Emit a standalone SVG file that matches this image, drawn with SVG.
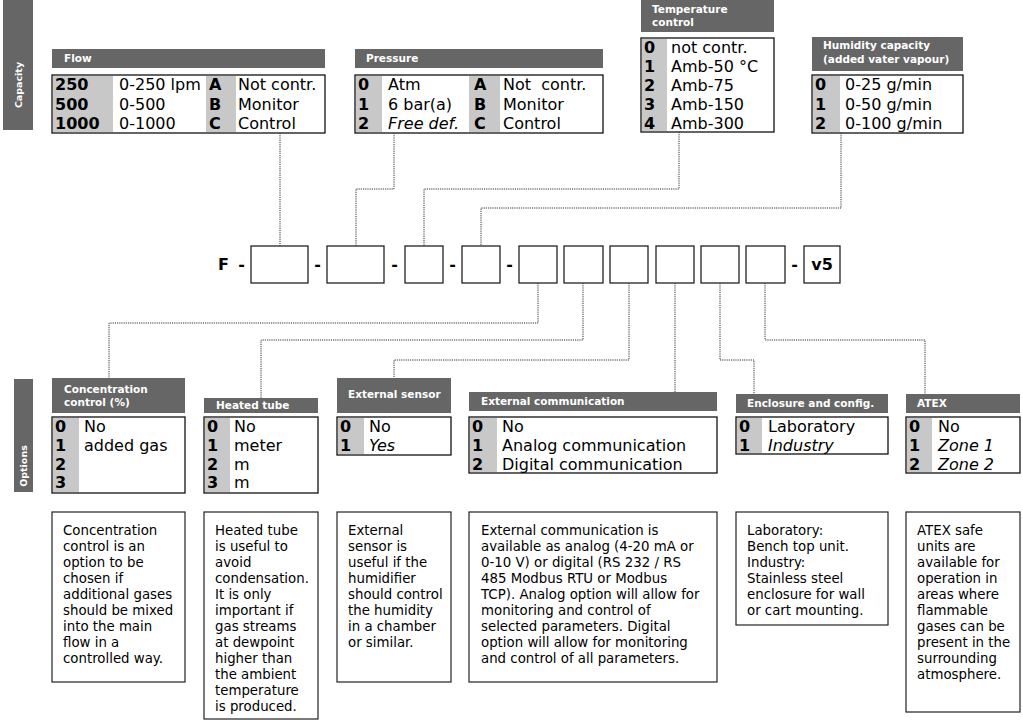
<svg xmlns="http://www.w3.org/2000/svg" width="1023" height="720" viewBox="0 0 1023 720">
<style>
text{font-family:"DejaVu Sans","Verdana",sans-serif;fill:#000}
.hdr{fill:#666}
.hd{font-size:10.5px;font-weight:bold;fill:#fff}
.side{font-size:9.5px;font-weight:bold;fill:#fff}
.tbl{fill:#fff;stroke:#111;stroke-width:1.3}
.g{fill:#c8c8c8}
.t{font-size:16px}
.b{font-size:16px;font-weight:bold}
.i{font-style:italic}
.box{fill:#fff;stroke:#222;stroke-width:1.3}
.code{font-size:16px;font-weight:bold}
.d{font-size:13.33px}
.desc{fill:#fff;stroke:#222;stroke-width:1.2}
.con{fill:none;stroke:#333;stroke-width:1;stroke-dasharray:1.2 1}
</style>
<rect x="0" y="0" width="1023" height="720" fill="#fff"/>

<g id="side-capacity">
<rect class="hdr" x="3" y="0" width="30" height="130"/>
<text class="side" transform="translate(22,85) rotate(-90)" text-anchor="middle">Capacity</text>
</g>
<g id="side-options">
<rect class="hdr" x="14" y="379" width="19" height="113"/>
<text class="side" transform="translate(27,466) rotate(-90)" text-anchor="middle">Options</text>
</g>

<g id="flow">
<rect class="hdr" x="52" y="49" width="273" height="19"/>
<text class="hd" x="64" y="62">Flow</text>
<rect class="tbl" x="52" y="75" width="273" height="58"/>
<rect class="g" x="53" y="76" width="60" height="56"/>
<rect class="g" x="206" y="76" width="30" height="56"/>
<text class="b" x="55" y="90">250</text><text class="t" x="119" y="90">0-250 lpm</text><text class="b" x="209" y="90">A</text><text class="t" x="238" y="90">Not contr.</text>
<text class="b" x="55" y="109.5">500</text><text class="t" x="119" y="109.5">0-500</text><text class="b" x="209" y="109.5">B</text><text class="t" x="238" y="109.5">Monitor</text>
<text class="b" x="55" y="129">1000</text><text class="t" x="119" y="129">0-1000</text><text class="b" x="209" y="129">C</text><text class="t" x="238" y="129">Control</text>
</g>

<g id="pressure">
<rect class="hdr" x="355" y="49" width="248" height="19"/>
<text class="hd" x="366" y="62">Pressure</text>
<rect class="tbl" x="355" y="75" width="248" height="58"/>
<rect class="g" x="356" y="76" width="26" height="56"/>
<rect class="g" x="469" y="76" width="31" height="56"/>
<text class="b" x="358" y="90">0</text><text class="t" x="388" y="90">Atm</text><text class="b" x="474" y="90">A</text><text class="t" x="503" y="90" xml:space="preserve">Not  contr.</text>
<text class="b" x="358" y="109.5">1</text><text class="t" x="388" y="109.5">6 bar(a)</text><text class="b" x="474" y="109.5">B</text><text class="t" x="503" y="109.5">Monitor</text>
<text class="b" x="358" y="129">2</text><text class="t i" x="388" y="129">Free def.</text><text class="b" x="474" y="129">C</text><text class="t" x="503" y="129">Control</text>
</g>

<g id="temperature">
<rect class="hdr" x="641" y="0" width="133" height="32"/>
<text class="hd" x="652" y="13">Temperature</text>
<text class="hd" x="652" y="26">control</text>
<rect class="tbl" x="641" y="38" width="133" height="94"/>
<rect class="g" x="642" y="39" width="25" height="92"/>
<text class="b" x="644" y="53">0</text><text class="t" x="671" y="53">not contr.</text>
<text class="b" x="644" y="72">1</text><text class="t" x="671" y="72">Amb-50 °C</text>
<text class="b" x="644" y="91">2</text><text class="t" x="671" y="91">Amb-75</text>
<text class="b" x="644" y="110">3</text><text class="t" x="671" y="110">Amb-150</text>
<text class="b" x="644" y="129">4</text><text class="t" x="671" y="129">Amb-300</text>
</g>

<g id="humidity">
<rect class="hdr" x="812" y="37" width="151" height="34"/>
<text class="hd" x="823" y="49">Humidity capacity</text>
<text class="hd" x="823" y="63">(added vater vapour)</text>
<rect class="tbl" x="812" y="75" width="151" height="58"/>
<rect class="g" x="813" y="76" width="27" height="56"/>
<text class="b" x="815" y="90">0</text><text class="t" x="845" y="90">0-25 g/min</text>
<text class="b" x="815" y="109.5">1</text><text class="t" x="845" y="109.5">0-50 g/min</text>
<text class="b" x="815" y="129">2</text><text class="t" x="845" y="129">0-100 g/min</text>
</g>

<g id="code">
<text class="code" x="218" y="270">F</text>
<text class="code" x="241.5" y="270" text-anchor="middle">-</text>
<rect class="box" x="251" y="246" width="57" height="37"/>
<text class="code" x="317.5" y="270" text-anchor="middle">-</text>
<rect class="box" x="327" y="246" width="57" height="37"/>
<text class="code" x="394.5" y="270" text-anchor="middle">-</text>
<rect class="box" x="405" y="246" width="38" height="37"/>
<text class="code" x="452.5" y="270" text-anchor="middle">-</text>
<rect class="box" x="462" y="246" width="38" height="37"/>
<text class="code" x="509.5" y="270" text-anchor="middle">-</text>
<rect class="box" x="519" y="246" width="38" height="37"/>
<rect class="box" x="564" y="246" width="39" height="37"/>
<rect class="box" x="610" y="246" width="38" height="37"/>
<rect class="box" x="656" y="246" width="38" height="37"/>
<rect class="box" x="701" y="246" width="38" height="37"/>
<rect class="box" x="746" y="246" width="39" height="37"/>
<text class="code" x="794.5" y="270" text-anchor="middle">-</text>
<rect class="box" x="804" y="246" width="36" height="37"/>
<text class="code" x="822" y="270" text-anchor="middle">v5</text>
</g>

<g id="connectors">
<path class="con" d="M280,133 V246"/>
<path class="con" d="M394,133 V189 H356 V246"/>
<path class="con" d="M679,132 V189 H424 V246"/>
<path class="con" d="M841,133 V208 H481 V246"/>
<path class="con" d="M538,283 V323 H109 V378"/>
<path class="con" d="M583,283 V340 H261 V398"/>
<path class="con" d="M629,283 V360 H394 V378"/>
<path class="con" d="M675,283 V392"/>
<path class="con" d="M720,283 V360 H754 V394"/>
<path class="con" d="M765,283 V340 H925 V394"/>
</g>

<g id="concentration">
<rect class="hdr" x="52" y="378" width="133" height="35"/>
<text class="hd" x="64" y="393">Concentration</text>
<text class="hd" x="64" y="406">control (%)</text>
<rect class="tbl" x="52" y="417" width="133" height="76"/>
<rect class="g" x="53" y="418" width="26" height="74"/>
<text class="b" x="55" y="432">0</text><text class="t" x="84" y="432">No</text>
<text class="b" x="55" y="451">1</text><text class="t" x="84" y="451">added gas</text>
<text class="b" x="55" y="470">2</text>
<text class="b" x="55" y="488">3</text>
</g>

<g id="heated-tube">
<rect class="hdr" x="204" y="398" width="114" height="15"/>
<text class="hd" x="216" y="409">Heated tube</text>
<rect class="tbl" x="204" y="417" width="114" height="76"/>
<rect class="g" x="205" y="418" width="25" height="74"/>
<text class="b" x="207" y="432">0</text><text class="t" x="234" y="432">No</text>
<text class="b" x="207" y="451">1</text><text class="t" x="234" y="451">meter</text>
<text class="b" x="207" y="470">2</text><text class="t" x="234" y="470">m</text>
<text class="b" x="207" y="488">3</text><text class="t" x="234" y="488">m</text>
</g>

<g id="external-sensor">
<rect class="hdr" x="337" y="378" width="114" height="35"/>
<text class="hd" x="348" y="398">External sensor</text>
<rect class="tbl" x="337" y="417" width="114" height="38"/>
<rect class="g" x="338" y="418" width="26" height="36"/>
<text class="b" x="340" y="432">0</text><text class="t" x="369" y="432">No</text>
<text class="b" x="340" y="451">1</text><text class="t i" x="369" y="451">Yes</text>
</g>

<g id="external-communication">
<rect class="hdr" x="469" y="392" width="248" height="19"/>
<text class="hd" x="481" y="405">External communication</text>
<rect class="tbl" x="469" y="417" width="248" height="56"/>
<rect class="g" x="470" y="418" width="27" height="54"/>
<text class="b" x="472" y="432">0</text><text class="t" x="502" y="432">No</text>
<text class="b" x="472" y="451">1</text><text class="t" x="502" y="451">Analog communication</text>
<text class="b" x="472" y="470">2</text><text class="t" x="502" y="470">Digital communication</text>
</g>

<g id="enclosure">
<rect class="hdr" x="736" y="394" width="152" height="19"/>
<text class="hd" x="747" y="407">Enclosure and config.</text>
<rect class="tbl" x="736" y="417" width="152" height="37"/>
<rect class="g" x="737" y="418" width="25" height="35"/>
<text class="b" x="739" y="432">0</text><text class="t" x="768" y="432">Laboratory</text>
<text class="b" x="739" y="451">1</text><text class="t i" x="768" y="451">Industry</text>
</g>

<g id="atex">
<rect class="hdr" x="906" y="394" width="114" height="19"/>
<text class="hd" x="917" y="407">ATEX</text>
<rect class="tbl" x="906" y="417" width="114" height="56"/>
<rect class="g" x="907" y="418" width="25" height="54"/>
<text class="b" x="909" y="432">0</text><text class="t" x="938" y="432">No</text>
<text class="b" x="909" y="451">1</text><text class="t i" x="938" y="451">Zone 1</text>
<text class="b" x="909" y="470">2</text><text class="t i" x="938" y="470">Zone 2</text>
</g>

<g id="desc-concentration">
<rect class="desc" x="52" y="512" width="133" height="170"/>
<text class="d" x="63" y="535">Concentration</text>
<text class="d" x="63" y="551">control is an</text>
<text class="d" x="63" y="567">option to be</text>
<text class="d" x="63" y="583">chosen if</text>
<text class="d" x="63" y="599">additional gases</text>
<text class="d" x="63" y="615">should be mixed</text>
<text class="d" x="63" y="631">into the main</text>
<text class="d" x="63" y="647">flow in a</text>
<text class="d" x="63" y="663">controlled way.</text>
</g>

<g id="desc-heated">
<rect class="desc" x="204" y="512" width="114" height="207"/>
<text class="d" x="215" y="535">Heated tube</text>
<text class="d" x="215" y="551">is useful to</text>
<text class="d" x="215" y="567">avoid</text>
<text class="d" x="215" y="583">condensation.</text>
<text class="d" x="215" y="599">It is only</text>
<text class="d" x="215" y="615">important if</text>
<text class="d" x="215" y="631">gas streams</text>
<text class="d" x="215" y="647">at dewpoint</text>
<text class="d" x="215" y="663">higher than</text>
<text class="d" x="215" y="679">the ambient</text>
<text class="d" x="215" y="695">temperature</text>
<text class="d" x="215" y="711">is produced.</text>
</g>

<g id="desc-sensor">
<rect class="desc" x="337" y="512" width="114" height="170"/>
<text class="d" x="348" y="535">External</text>
<text class="d" x="348" y="551">sensor is</text>
<text class="d" x="348" y="567">useful if the</text>
<text class="d" x="348" y="583">humidifier</text>
<text class="d" x="348" y="599">should control</text>
<text class="d" x="348" y="615">the humidity</text>
<text class="d" x="348" y="631">in a chamber</text>
<text class="d" x="348" y="647">or similar.</text>
</g>

<g id="desc-communication">
<rect class="desc" x="469" y="512" width="248" height="170"/>
<text class="d" x="481" y="535">External communication is</text>
<text class="d" x="481" y="551">available as analog (4-20 mA or</text>
<text class="d" x="481" y="567">0-10 V) or digital (RS 232 / RS</text>
<text class="d" x="481" y="583">485 Modbus RTU or Modbus</text>
<text class="d" x="481" y="599">TCP). Analog option will allow for</text>
<text class="d" x="481" y="615">monitoring and control of</text>
<text class="d" x="481" y="631">selected parameters. Digital</text>
<text class="d" x="481" y="647">option will allow for monitoring</text>
<text class="d" x="481" y="663">and control of all parameters.</text>
</g>

<g id="desc-enclosure">
<rect class="desc" x="736" y="512" width="152" height="113"/>
<text class="d" x="747" y="535">Laboratory:</text>
<text class="d" x="747" y="551">Bench top unit.</text>
<text class="d" x="747" y="567">Industry:</text>
<text class="d" x="747" y="583">Stainless steel</text>
<text class="d" x="747" y="599">enclosure for wall</text>
<text class="d" x="747" y="615">or cart mounting.</text>
</g>

<g id="desc-atex">
<rect class="desc" x="906" y="512" width="114" height="200"/>
<text class="d" x="917" y="535">ATEX safe</text>
<text class="d" x="917" y="551">units are</text>
<text class="d" x="917" y="567">available for</text>
<text class="d" x="917" y="583">operation in</text>
<text class="d" x="917" y="599">areas where</text>
<text class="d" x="917" y="615">flammable</text>
<text class="d" x="917" y="631">gases can be</text>
<text class="d" x="917" y="647">present in the</text>
<text class="d" x="917" y="663">surrounding</text>
<text class="d" x="917" y="679">atmosphere.</text>
</g>
</svg>
